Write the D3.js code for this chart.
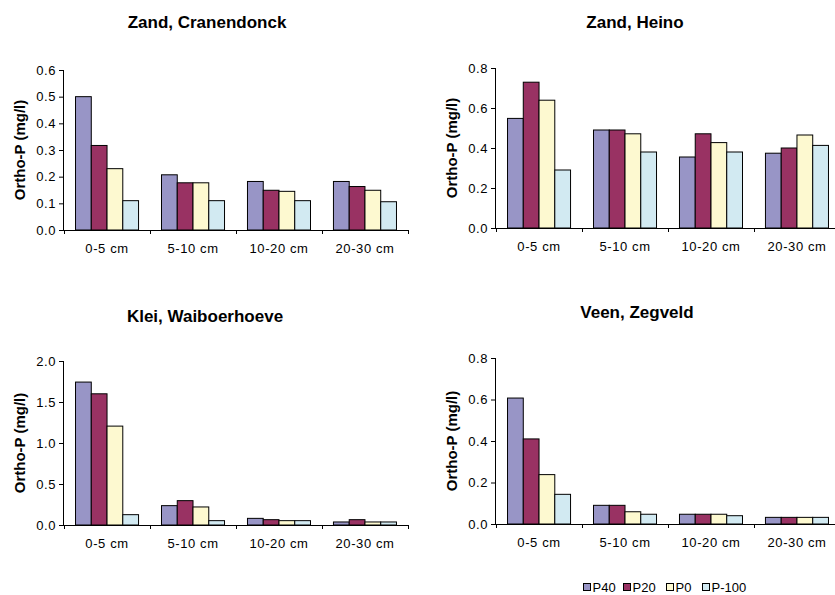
<!DOCTYPE html>
<meta charset="utf-8">
<style>
body { margin: 0; background: #fff; }
svg { font-family: Arial, "Liberation Sans", sans-serif; }
.title { font-weight: bold; font-size: 17px; }
.ylabel { font-weight: bold; font-size: 15px; }
.axis text { font-size: 13px; letter-spacing: 0.6px; fill: #000; }
.axis path, .axis line { stroke: #000; }
.legend text { font-size: 13px; }
</style>
<svg width="835" height="595"></svg>
<script src="https://d3js.org/d3.v7.min.js"></script>
<script>

var depths = ["0-5 cm", "5-10 cm", "10-20 cm", "20-30 cm"];
var treatments = ["P40", "P20", "P0", "P-100"];
var colors = ["#9895c6", "#993263", "#fdf9d0", "#d2eaf2"];

// values per treatment (P40, P20, P0, P-100), per depth
var cranendonck = [[0.50, 0.207, 0.182, 0.182],
                   [0.317, 0.177, 0.149, 0.163],
                   [0.230, 0.177, 0.145, 0.149],
                   [0.110, 0.110, 0.110, 0.106]];
var heino = [[0.548, 0.490, 0.355, 0.374],
             [0.729, 0.490, 0.471, 0.400],
             [0.639, 0.471, 0.427, 0.465],
             [0.290, 0.380, 0.380, 0.413]];
var waiboerhoeve = [[1.743, 0.236, 0.081, 0.037],
                    [1.600, 0.297, 0.065, 0.065],
                    [1.206, 0.220, 0.053, 0.037],
                    [0.126, 0.053, 0.053, 0.037]];
var zegveld = [[0.607, 0.090, 0.047, 0.032],
               [0.410, 0.090, 0.047, 0.032],
               [0.238, 0.059, 0.047, 0.032],
               [0.143, 0.047, 0.040, 0.032]];

var titles = ["Zand, Cranendonck", "Zand, Heino", "Klei, Waiboerhoeve", "Veen, Zegveld"];
var yMax = [0.6, 0.8, 2.0, 0.8];
var yTicks = [[0, 0.1, 0.2, 0.3, 0.4, 0.5, 0.6],
              [0, 0.2, 0.4, 0.6, 0.8],
              [0, 0.5, 1.0, 1.5, 2.0],
              [0, 0.2, 0.4, 0.6, 0.8]];
var panelData = [cranendonck, heino, waiboerhoeve, zegveld];

// panel layout: plot box and text positions
var boxes = [
  {left: 64, right: 408, top: 70, bottom: 230, tx: 207, ty: 28, lx: 25},
  {left: 496, right: 840, top: 68, bottom: 228, tx: 635, ty: 27.5, lx: 457},
  {left: 64, right: 408, top: 361, bottom: 525, tx: 205, ty: 322, lx: 25},
  {left: 496, right: 840, top: 358, bottom: 524, tx: 637, ty: 318, lx: 457}
];

var svg = d3.select("svg");

boxes.forEach(function(b, p) {
  var g = svg.append("g");

  var x = d3.scaleBand()
      .domain(depths)
      .range([b.left, b.right])
      .paddingInner(0.267)
      .paddingOuter(0.134);
  var xs = d3.scaleBand()
      .domain(treatments)
      .range([0, x.bandwidth()]);
  var edge = d3.scaleLinear()
      .domain([0, depths.length])
      .range([b.left, b.right]);
  var y = d3.scaleLinear()
      .domain([0, yMax[p]])
      .range([b.bottom, b.top]);

  g.append("text")
      .attr("class", "title")
      .attr("x", b.tx)
      .attr("y", b.ty)
      .attr("text-anchor", "middle")
      .text(titles[p]);

  g.append("text")
      .attr("class", "ylabel")
      .attr("transform", "translate(" + b.lx + "," + ((b.top + b.bottom) / 2) + ") rotate(-90)")
      .attr("text-anchor", "middle")
      .text("Ortho-P (mg/l)");

  var series = g.selectAll(".series")
    .data(panelData[p])
    .enter().append("g")
      .attr("fill", function(d, i) { return colors[i]; })
      .attr("transform", function(d, i) { return "translate(" + xs(treatments[i]) + ",0)"; });

  series.selectAll("rect")
    .data(function(d) { return d; })
    .enter().append("rect")
      .attr("x", function(d, j) { return x(depths[j]); })
      .attr("y", function(d) { return y(d); })
      .attr("width", xs.bandwidth())
      .attr("height", function(d) { return y(0) - y(d); })
      .attr("stroke", "#000")
      .attr("stroke-width", 1);

  g.append("g")
      .attr("class", "axis")
      .attr("transform", "translate(" + b.left + ",0)")
      .call(d3.axisLeft(y)
        .tickValues(yTicks[p])
        .tickSize(5)
        .tickPadding(3)
        .tickFormat(d3.format(".1f")))
    .select(".domain")
      .attr("d", "M-0.5," + (b.bottom + 0.5) + "V" + b.top);

  g.append("g")
      .attr("class", "axis")
      .attr("transform", "translate(0," + b.bottom + ")")
      .call(d3.axisBottom(edge)
        .tickValues(d3.range(depths.length + 1))
        .tickSize(4)
        .tickSizeOuter(0)
        .tickFormat(""));

  g.append("g")
      .attr("class", "axis")
      .attr("transform", "translate(0," + (b.bottom + 14) + ")")
      .call(d3.axisBottom(x).tickSize(0).tickPadding(0))
    .call(function(a) { a.select(".domain").remove(); });
});

var legend = svg.append("g")
    .attr("class", "legend")
    .attr("transform", "translate(0,587)");

var legendX = [583, 623, 666, 702];

var item = legend.selectAll("g")
  .data(treatments)
  .enter().append("g")
    .attr("transform", function(d, i) { return "translate(" + legendX[i] + ",0)"; });

item.append("rect")
    .attr("x", 0.5)
    .attr("y", -3.5)
    .attr("width", 7)
    .attr("height", 7)
    .attr("fill", function(d, i) { return colors[i]; })
    .attr("stroke", "#000");

item.append("text")
    .attr("x", 9.5)
    .attr("y", 5)
    .text(function(d) { return d; });

</script>
